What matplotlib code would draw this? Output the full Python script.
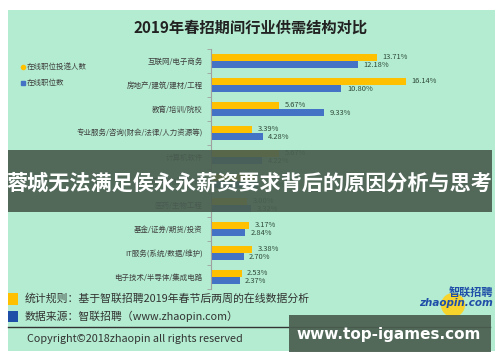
import matplotlib.pyplot as plt
from matplotlib.patches import Rectangle, Circle

plt.rcParams['font.family'] = ['Noto Sans CJK SC', 'DejaVu Sans']

# data (the 6th row is hidden under the banner, estimated)
categories = ['互联网/电子商务', '房地产/建筑/建材/工程', '教育/培训/院校',
              '专业服务/咨询(财会/法律/人力资源等)', '计算机软件', '交通/运输/物流/仓储',
              '医药/生物工程', '基金/证券/期货/投资', 'IT服务(系统/数据/维护)',
              '电子技术/半导体/集成电路']
applicants = [13.71, 16.14, 5.67, 3.39, 5.67, 3.60, 3.00, 3.17, 3.38, 2.53]
positions = [12.18, 10.80, 9.33, 4.28, 4.22, 3.90, 3.32, 2.84, 2.70, 2.37]

YELLOW = '#ffc000'
BLUE = '#4472c4'
BG = '#b3ecd0'
BANNER = '#4a5e50'
W, H = 500, 362

fig = plt.figure(figsize=(5, 3.62), dpi=100)
fig.patch.set_facecolor('white')

# background layer in pixel coords
bg = fig.add_axes([0, 0, 1, 1], zorder=0)
bg.set_xlim(0, W)
bg.set_ylim(H, 0)
bg.axis('off')
bg.add_patch(Rectangle((8, 10), 487, 341, color=BG, lw=0))

bg.text(251, 28, '2019年春招期间行业供需结构对比', ha='center', va='center',
        fontsize=11, fontweight='bold', color='#222222')

# legend
bg.plot(23, 67, 'o', ms=3, color=YELLOW)
bg.text(27, 67, '在线职位投递人数', fontsize=5.4, va='center', color='#404040')
bg.plot(23, 83, 's', ms=3, color=BLUE)
bg.text(27, 83, '在线职位数', fontsize=5.4, va='center', color='#404040')

# footer
bg.add_patch(Rectangle((8, 293), 10, 12, color=YELLOW, lw=0))
bg.text(25, 298, '统计规则：基于智联招聘2019年春节后两周的在线数据分析', fontsize=7.8,
        va='center', color='#333333')
bg.add_patch(Rectangle((8, 311), 10, 11, color='#1f4ea8', lw=0))
bg.text(25, 316, '数据来源：智联招聘（www.zhaopin.com）', fontsize=7.8,
        va='center', color='#333333')
bg.plot([8, 490], [327, 327], color='#333333', lw=1)
bg.text(27, 339, 'Copyright©2018zhaopin all rights reserved', fontsize=7.8,
        va='center', color='#333333')

# zhaopin logo
bg.add_patch(Circle((453, 305), 12, color='#ffd21a', alpha=0.9, lw=0))
bg.text(493, 293, '智联招聘', ha='right', va='center', fontsize=8,
        fontweight='bold', style='italic', color='#1f4ea8')
bg.text(493, 303, 'zhaopin.com', ha='right', va='center', fontsize=7.5,
        fontweight='bold', style='italic', color='#1f4ea8', family='DejaVu Sans')

# bar chart
n = len(categories)
left, right = 211, 411
top, bottom = 49, 289
ax = fig.add_axes([left / W, 1 - bottom / H, (right - left) / W, (bottom - top) / H],
                  zorder=1)
ax.patch.set_alpha(0)
ys = list(range(n))
bh = 0.27
ax.barh([y - 0.14 for y in ys], applicants, height=bh, color=YELLOW)
ax.barh([y + 0.15 for y in ys], positions, height=bh, color=BLUE)
for y, a, p in zip(ys, applicants, positions):
    ax.text(a + 0.45, y - 0.16, f'{a:.2f}%', fontsize=5.4, va='center', color='#2f4a3a')
    ax.text(p + 0.45, y + 0.16, f'{p:.2f}%', fontsize=5.4, va='center', color='#2f4a3a')
ax.set_xlim(0, (right - left) / 12.08)
ax.set_ylim(n - 0.5, -0.5)
ax.set_yticks(ys)
ax.set_yticklabels(categories, fontsize=5.4, color='#404040')
ax.tick_params(axis='y', which='major', length=0, pad=6)
ax.set_yticks([y + 0.5 for y in range(-1, n)], minor=True)
ax.tick_params(axis='y', which='minor', length=3, color='#a0a0a0')
ax.set_xticks([])
for s in ['top', 'right', 'bottom']:
    ax.spines[s].set_visible(False)
ax.spines['left'].set_color('#a0a0a0')
ax.spines['left'].set_linewidth(0.8)

# overlays
ov = fig.add_axes([0, 0, 1, 1], zorder=5)
ov.set_xlim(0, W)
ov.set_ylim(H, 0)
ov.axis('off')
ov.patch.set_alpha(0)
ov.add_patch(Rectangle((8, 150), 484, 62, color=BANNER, alpha=0.92, lw=0))
ov.text(249, 183, '蓉城无法满足侯永永薪资要求背后的原因分析与思考', ha='center',
        va='center', fontsize=15.2, fontweight='bold', color='white')
ov.add_patch(Rectangle((289, 315), 202, 37, color=BANNER, alpha=0.92, lw=0))
ov.text(389, 335, 'www.top-igames.com', ha='center', va='center', fontsize=11,
        fontweight='bold', color='white', family='DejaVu Sans')

fig.savefig('out.png', dpi=100)
